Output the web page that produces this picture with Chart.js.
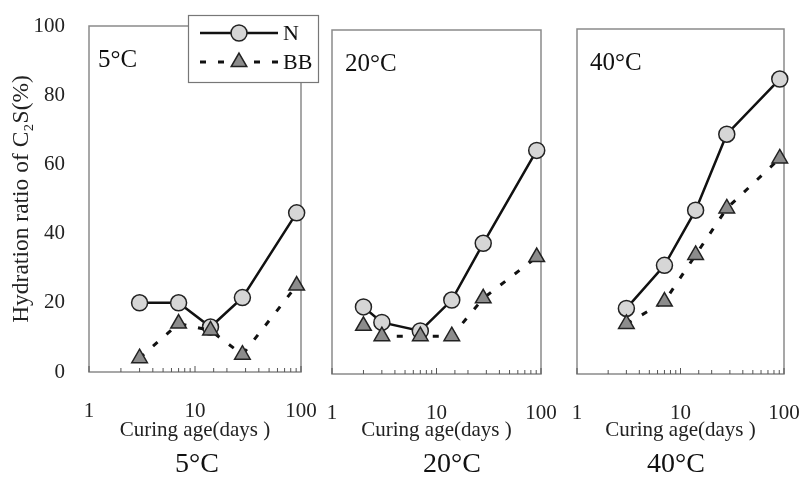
<!DOCTYPE html>
<html>
<head>
<meta charset="utf-8">
<script src="https://cdn.jsdelivr.net/npm/chart.js@4.4.1/dist/chart.umd.min.js"></script>
<style>
  body { margin: 0; background: #fff; }
  #wrap { position: relative; width: 804px; height: 479px; overflow: hidden; }
  canvas { position: absolute; top: 0; }
  .cap { position: absolute; width: 140px; text-align: center; top: 447px; line-height: 32px;
         font-family: 'Liberation Serif', 'Times New Roman', serif; font-size: 28px; color: #111; }
</style>
</head>
<body>
<div id="wrap">
  <canvas id="p5" width="330" height="479" style="left:0px"></canvas>
  <canvas id="p20" width="240" height="479" style="left:320px"></canvas>
  <canvas id="p40" width="244" height="479" style="left:560px"></canvas>
  <div class="cap" style="left:127px">5°C</div>
  <div class="cap" style="left:382px">20°C</div>
  <div class="cap" style="left:606px">40°C</div>
</div>
<script>
// curing ages (days) and hydration ratio of C2S (%)
const days5 = [3, 7, 14, 28, 91];
const n5 = [20, 20, 13, 21.5, 46];
const bb5 = [4, 14, 12, 5, 25];

const days20 = [2, 3, 7, 14, 28, 91];
const n20 = [19.5, 15, 12.5, 21.5, 38, 65];
const bb20 = [14, 11, 11, 11, 22, 34];

const days40 = [3, 7, 14, 28, 91];
const n40 = [19, 31.5, 47.5, 69.5, 85.5];
const bb40 = [14.5, 21, 34.5, 48, 62.5];

const xLabels = [1, 10, 100];
const yTicks = [0, 20, 40, 60, 80, 100];

const serif = "'Liberation Serif', 'Times New Roman', serif";
Chart.defaults.font.family = serif;
Chart.defaults.color = '#222';

function pts(days, vals) {
  return days.map((d, i) => ({ x: d, y: vals[i] }));
}

const nStyle = {
  label: 'N', order: 1, clip: false,
  borderColor: '#111', borderWidth: 2.5,
  pointStyle: 'circle', pointRadius: 8, pointHoverRadius: 8,
  pointBackgroundColor: '#d6d6d6', pointBorderColor: '#222', pointBorderWidth: 1.5
};
const bbStyle = {
  label: 'BB', order: 0, clip: false,
  borderColor: '#111', borderWidth: 3, borderDash: [6, 12],
  pointStyle: 'triangle', pointRadius: 9, pointHoverRadius: 9,
  pointBackgroundColor: '#8c8c8c', pointBorderColor: '#222', pointBorderWidth: 1.5
};

// frame, inward log ticks and temperature tag
const panelDecor = {
  id: 'panelDecor',
  beforeDatasetsDraw(chart, args, opts) {
    const { ctx, chartArea: a, scales: { x } } = chart;
    ctx.save();
    ctx.strokeStyle = '#8a8a8a';
    ctx.lineWidth = 1.5;
    ctx.strokeRect(a.left, a.top, a.right - a.left, a.bottom - a.top);
    ctx.strokeStyle = '#555';
    ctx.lineWidth = 1;
    x.ticks.forEach(t => {
      const px = x.getPixelForValue(t.value);
      const len = xLabels.includes(t.value) ? 6 : 4;
      ctx.beginPath();
      ctx.moveTo(px, a.bottom);
      ctx.lineTo(px, a.bottom - len);
      ctx.stroke();
    });
    ctx.fillStyle = '#111';
    ctx.font = '25px ' + serif;
    ctx.textBaseline = 'middle';
    ctx.fillText(opts.tag, a.left + opts.dx, a.top + 34);
    ctx.restore();
  }
};

// boxed key in the first panel
const seriesKey = {
  id: 'seriesKey',
  afterDraw(chart) {
    const ctx = chart.ctx;
    ctx.save();
    ctx.fillStyle = '#fff';
    ctx.fillRect(188, 15, 130, 67);
    ctx.strokeStyle = '#777';
    ctx.lineWidth = 1.2;
    ctx.strokeRect(188.5, 15.5, 130, 67);
    chart.data.datasets.forEach((ds, i) => {
      const y = 33 + i * 29;
      ctx.strokeStyle = ds.borderColor;
      ctx.lineWidth = ds.borderWidth;
      ctx.setLineDash(ds.borderDash || []);
      ctx.beginPath();
      ctx.moveTo(200, y);
      ctx.lineTo(278, y);
      ctx.stroke();
      ctx.setLineDash([]);
      ctx.fillStyle = ds.pointBackgroundColor;
      ctx.strokeStyle = ds.pointBorderColor;
      ctx.lineWidth = ds.pointBorderWidth;
      Chart.helpers.drawPoint(ctx, { pointStyle: ds.pointStyle, radius: ds.pointRadius, borderWidth: ds.pointBorderWidth, rotation: 0 }, 239, y);
      ctx.fillStyle = '#111';
      ctx.font = '22px ' + serif;
      ctx.textBaseline = 'middle';
      ctx.fillText(ds.label, 283, y + 1);
    });
    ctx.restore();
  }
};

function makePanel(id, days, n, bb, cfg) {
  return new Chart(document.getElementById(id), {
    type: 'line',
    data: {
      datasets: [
        Object.assign({ data: pts(days, n) }, nStyle),
        Object.assign({ data: pts(days, bb) }, bbStyle)
      ]
    },
    plugins: cfg.key ? [panelDecor, seriesKey] : [panelDecor],
    options: {
      responsive: false,
      animation: false,
      layout: { padding: cfg.padding },
      plugins: {
        legend: { display: false },
        tooltip: { enabled: false },
        panelDecor: { tag: cfg.tag, dx: cfg.dx }
      },
      scales: {
        x: {
          type: 'logarithmic',
          min: 1, max: 100,
          afterFit(s) { s.height = cfg.xHeight; },
          // tick marks are hidden; tickLength only pushes the labels down
          grid: { display: false, drawTicks: true, tickLength: 27 },
          border: { display: false },
          ticks: {
            autoSkip: false, maxRotation: 0, padding: 0,
            font: { size: 21 }, color: '#222',
            callback: v => xLabels.includes(v) ? String(v) : ''
          },
          title: {
            display: true, text: 'Curing age(days )',
            font: { size: 21 }, color: '#222',
            padding: { top: 0, bottom: 36 }
          }
        },
        y: {
          display: cfg.yAxis,
          min: 0, max: 100,
          afterFit(s) { s.width = cfg.yAxis ? 89 : 0; },
          afterBuildTicks(s) { s.ticks = yTicks.map(v => ({ value: v })); },
          grid: { display: false, drawTicks: true, tickLength: 24 },
          border: { display: false },
          ticks: { padding: 0, font: { size: 21 }, color: '#222' },
          title: {
            display: true, text: 'Hydration ratio of C₂S(%)',
            font: { size: 23.5 }, color: '#222',
            padding: { top: 8, bottom: 0 }
          }
        }
      }
    }
  });
}

makePanel('p5', days5, n5, bb5, {
  tag: '5°C', dx: 9, key: true, yAxis: true, xHeight: 107,
  padding: { left: 0, right: 29, top: 26, bottom: 0 }
});
makePanel('p20', days20, n20, bb20, {
  tag: '20°C', dx: 13, key: false, yAxis: false, xHeight: 105,
  padding: { left: 12, right: 19, top: 30, bottom: 0 }
});
makePanel('p40', days40, n40, bb40, {
  tag: '40°C', dx: 13, key: false, yAxis: false, xHeight: 105,
  padding: { left: 17, right: 20, top: 29, bottom: 0 }
});
</script>
</body>
</html>
